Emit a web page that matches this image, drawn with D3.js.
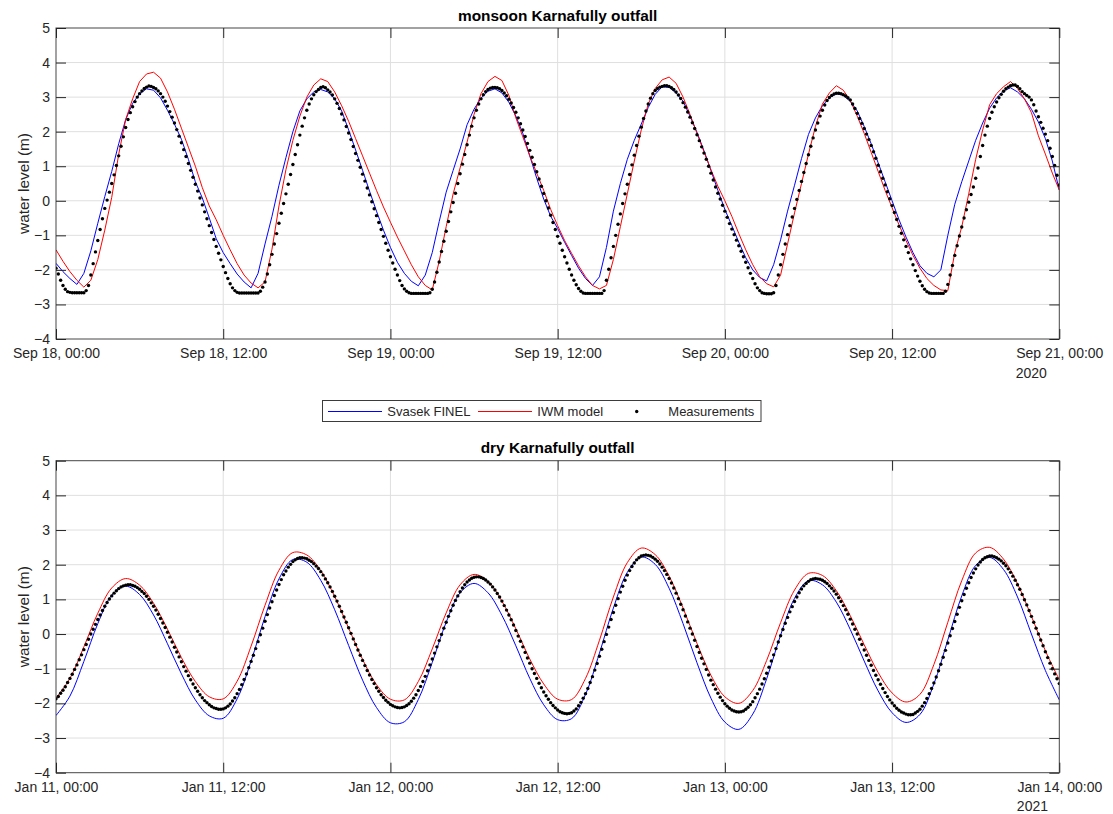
<!DOCTYPE html>
<html><head><meta charset="utf-8">
<script src="https://cdn.jsdelivr.net/npm/d3@7"></script>
<style>
body{margin:0;background:#fff;}
svg{display:block;font-family:"Liberation Sans",Arial,Helvetica,sans-serif;}
</style></head><body>
<svg id="chart" width="1113" height="814"></svg>
<script>
// ---------------- data ----------------
const spanHours = 72;
const xTickHours = [0, 12, 24, 36, 48, 60, 72];
const monsoonTickLabels = ["Sep 18, 00:00","Sep 18, 12:00","Sep 19, 00:00","Sep 19, 12:00","Sep 20, 00:00","Sep 20, 12:00","Sep 21, 00:00"];
const dryTickLabels = ["Jan 11, 00:00","Jan 11, 12:00","Jan 12, 00:00","Jan 12, 12:00","Jan 13, 00:00","Jan 13, 12:00","Jan 14, 00:00"];
const monsoonYear = "2020";
const dryYear = "2021";
const yTicks = [-4, -3, -2, -1, 0, 1, 2, 3, 4, 5];
const seriesNames = ["Svasek FINEL", "IWM model", "Measurements"];
const titles = ["monsoon Karnafully outfall", "dry Karnafully outfall"];
const yLabel = "water level (m)";

// monsoon, models every 30 min (Sep 18 00:00 .. Sep 21 00:00)
const monsoonSvasek = [
-1.81,-2.05,-2.25,-2.42,-2.1,-1.45,-0.65,0.12,0.85,1.65,2.35,2.82,
3.1,3.24,3.2,2.98,2.62,2.22,1.78,1.2,0.55,0.08,-0.5,-1.1,
-1.5,-1.82,-2.12,-2.35,-2.52,-2.1,-1.25,-0.45,0.45,1.25,2.0,2.6,
2.95,3.15,3.22,3.15,2.95,2.6,2.05,1.47,0.88,0.28,-0.3,-0.85,
-1.35,-1.78,-2.1,-2.33,-2.46,-2.15,-1.5,-0.6,0.25,0.88,1.5,2.2,
2.65,2.97,3.17,3.24,3.12,2.85,2.45,1.95,1.3,0.65,0.05,-0.45,
-0.8,-1.2,-1.58,-1.95,-2.25,-2.45,-2.2,-1.35,-0.3,0.5,1.2,1.75,
2.22,2.7,3.08,3.3,3.28,3.12,2.88,2.45,1.98,1.45,0.88,0.3,
-0.25,-0.72,-1.2,-1.65,-2.0,-2.22,-2.32,-1.85,-1.13,-0.3,0.45,1.22,
1.92,2.4,2.75,2.98,3.1,3.05,2.88,2.6,2.15,1.65,1.1,0.55,
0.0,-0.55,-1.05,-1.5,-1.88,-2.1,-2.2,-2.0,-1.0,-0.1,0.55,1.15,
1.75,2.25,2.68,2.98,3.18,3.27,3.15,2.95,2.65,2.28,1.8,1.15,
0.31];
const monsoonIWM = [
-1.42,-1.75,-2.05,-2.3,-2.5,-2.3,-1.7,-0.85,0.1,1.35,2.35,2.95,
3.45,3.67,3.72,3.55,3.15,2.65,2.1,1.55,1.0,0.38,-0.15,-0.55,
-1.0,-1.42,-1.82,-2.15,-2.38,-2.52,-2.35,-1.4,-0.15,0.9,1.75,2.45,
3.0,3.35,3.53,3.45,3.15,2.75,2.3,1.8,1.3,0.8,0.3,-0.18,
-0.62,-1.05,-1.45,-1.85,-2.2,-2.45,-2.58,-1.75,-0.75,0.2,0.95,1.7,
2.5,3.1,3.45,3.6,3.48,3.05,2.4,1.85,1.3,0.8,0.3,-0.25,
-0.72,-1.15,-1.52,-1.88,-2.2,-2.45,-2.55,-2.45,-1.7,-0.75,0.2,1.15,
2.05,2.8,3.25,3.5,3.58,3.4,3.0,2.5,1.95,1.42,0.9,0.42,
0.0,-0.45,-0.95,-1.42,-1.85,-2.2,-2.4,-2.49,-2.15,-1.25,-0.35,0.5,
1.35,2.15,2.8,3.12,3.33,3.2,2.9,2.45,1.95,1.4,0.85,0.3,
-0.2,-0.7,-1.15,-1.58,-1.95,-2.25,-2.45,-2.58,-2.6,-1.5,-0.75,0.2,
1.2,2.05,2.78,3.1,3.3,3.45,3.25,2.95,2.55,1.88,1.35,0.8,
0.31];
// monsoon measurements every 10 min
const monsoonMeasured = [
-1.95,-2.12,-2.3,-2.45,-2.56,-2.63,
-2.65,-2.66,-2.66,-2.66,-2.66,-2.66,
-2.66,-2.6,-2.45,-2.15,-1.82,-1.48,
-1.15,-0.83,-0.52,-0.22,0.02,0.25,
0.5,0.75,1.02,1.3,1.58,1.85,
2.12,2.35,2.55,2.72,2.87,3.0,
3.1,3.18,3.25,3.29,3.32,3.31,
3.28,3.24,3.18,3.1,3.0,2.88,
2.74,2.58,2.42,2.25,2.06,1.87,
1.68,1.48,1.28,1.08,0.88,0.68,
0.48,0.28,0.08,-0.12,-0.32,-0.52,
-0.72,-0.92,-1.12,-1.32,-1.52,-1.71,
-1.9,-2.08,-2.25,-2.4,-2.52,-2.6,
-2.65,-2.67,-2.67,-2.67,-2.67,-2.67,
-2.67,-2.67,-2.67,-2.67,-2.62,-2.5,
-2.35,-2.12,-1.85,-1.55,-1.25,-0.95,
-0.65,-0.36,-0.08,0.2,0.48,0.76,
1.05,1.34,1.62,1.9,2.16,2.4,
2.62,2.8,2.95,3.07,3.16,3.22,
3.28,3.3,3.27,3.21,3.15,3.06,
2.95,2.82,2.67,2.51,2.34,2.15,
1.96,1.77,1.57,1.37,1.17,0.97,
0.77,0.57,0.37,0.17,-0.03,-0.23,
-0.43,-0.63,-0.83,-1.03,-1.23,-1.43,
-1.62,-1.8,-1.98,-2.15,-2.31,-2.45,
-2.55,-2.62,-2.66,-2.68,-2.68,-2.68,
-2.68,-2.68,-2.68,-2.68,-2.68,-2.66,
-2.56,-2.35,-2.07,-1.77,-1.47,-1.17,
-0.88,-0.6,-0.32,-0.05,0.22,0.5,
0.78,1.06,1.34,1.62,1.9,2.16,
2.4,2.62,2.8,2.95,3.07,3.16,
3.22,3.26,3.28,3.28,3.27,3.24,
3.19,3.12,3.04,2.94,2.83,2.7,
2.56,2.4,2.23,2.05,1.86,1.66,
1.46,1.26,1.05,0.84,0.63,0.42,
0.21,0.0,-0.21,-0.42,-0.63,-0.83,
-1.03,-1.23,-1.43,-1.62,-1.8,-1.98,
-2.15,-2.3,-2.43,-2.54,-2.62,-2.67,
-2.68,-2.68,-2.68,-2.68,-2.68,-2.68,
-2.68,-2.68,-2.6,-2.3,-1.98,-1.65,
-1.32,-1.0,-0.68,-0.38,-0.08,0.2,
0.48,0.76,1.04,1.32,1.6,1.87,
2.13,2.38,2.6,2.8,2.97,3.1,
3.19,3.25,3.29,3.31,3.33,3.33,
3.31,3.27,3.22,3.15,3.06,2.96,
2.84,2.71,2.57,2.42,2.26,2.09,
1.91,1.74,1.56,1.38,1.2,1.0,
0.8,0.6,0.4,0.22,0.05,-0.13,
-0.3,-0.48,-0.66,-0.82,-0.98,-1.14,
-1.3,-1.46,-1.62,-1.78,-1.94,-2.1,
-2.25,-2.4,-2.52,-2.6,-2.66,-2.68,
-2.69,-2.69,-2.69,-2.66,-2.45,-2.15,
-1.85,-1.55,-1.25,-0.98,-0.72,-0.47,
-0.22,0.04,0.3,0.56,0.82,1.08,
1.33,1.58,1.82,2.05,2.25,2.45,
2.62,2.77,2.9,2.99,3.05,3.09,
3.11,3.11,3.1,3.07,3.03,2.98,
2.92,2.8,2.67,2.53,2.38,2.24,
2.09,1.93,1.77,1.6,1.42,1.23,
1.03,0.84,0.65,0.46,0.26,0.06,
-0.14,-0.34,-0.54,-0.74,-0.94,-1.13,
-1.32,-1.5,-1.68,-1.85,-2.02,-2.18,
-2.33,-2.46,-2.56,-2.63,-2.67,-2.68,
-2.68,-2.68,-2.68,-2.68,-2.68,-2.62,
-2.42,-2.15,-1.87,-1.58,-1.3,-1.02,
-0.76,-0.5,-0.26,-0.04,0.18,0.4,
0.65,0.95,1.28,1.6,1.9,2.16,
2.38,2.56,2.72,2.86,2.98,3.08,
3.17,3.24,3.29,3.33,3.35,3.35,
3.31,3.24,3.16,3.1,3.05,3.0,
2.92,2.78,2.6,2.43,2.27,2.1,
1.93,1.74,1.52,1.28,1.02,0.74,
0.46];

// dry season, models hourly (Jan 11 00:00 .. Jan 14 00:00)
const drySvasek = [
-2.35,-1.79,-0.79,0.3,1.12,1.38,1.14,0.55,-0.28,-1.15,-1.9,-2.36,
-2.43,-1.87,-0.78,0.5,1.59,2.15,2.07,1.55,0.7,-0.33,-1.33,-2.12,
-2.56,-2.53,-1.89,-0.82,0.34,1.19,1.46,1.19,0.54,-0.34,-1.28,-2.04,
-2.47,-2.44,-1.74,-0.55,0.75,1.78,2.22,2.01,1.32,0.3,-0.83,-1.85,
-2.54,-2.75,-2.31,-1.29,-0.03,1.03,1.54,1.42,0.92,0.13,-0.78,-1.64,
-2.27,-2.55,-2.32,-1.44,-0.17,1.1,1.98,2.21,1.86,1.07,0.0,-1.05,
-1.9];
const dryIWM = [
-1.85,-1.28,-0.37,0.6,1.33,1.6,1.41,0.89,0.14,-0.68,-1.37,-1.81,
-1.87,-1.36,-0.35,0.83,1.84,2.35,2.28,1.83,1.08,0.17,-0.73,-1.46,
-1.88,-1.9,-1.37,-0.43,0.61,1.42,1.72,1.52,0.95,0.15,-0.72,-1.44,
-1.88,-1.89,-1.28,-0.18,1.07,2.06,2.48,2.29,1.67,0.75,-0.27,-1.19,
-1.81,-2.0,-1.63,-0.76,0.33,1.27,1.75,1.69,1.25,0.53,-0.31,-1.11,
-1.7,-1.96,-1.74,-0.88,0.34,1.54,2.34,2.5,2.16,1.45,0.51,-0.48,
-1.32];
// dry measurements every 10 min
const dryMeasured = [
-1.87,-1.8,-1.71,-1.62,-1.52,-1.4,
-1.28,-1.16,-1.02,-0.89,-0.74,-0.6,
-0.45,-0.3,-0.15,0.0,0.14,0.28,
0.42,0.55,0.68,0.8,0.91,1.01,
1.1,1.18,1.25,1.31,1.36,1.39,
1.41,1.42,1.42,1.4,1.38,1.34,
1.29,1.23,1.17,1.09,1.0,0.9,
0.8,0.69,0.57,0.45,0.32,0.19,
0.05,-0.09,-0.23,-0.38,-0.52,-0.66,
-0.8,-0.94,-1.07,-1.2,-1.32,-1.44,
-1.55,-1.65,-1.75,-1.84,-1.92,-1.98,
-2.04,-2.09,-2.13,-2.15,-2.17,-2.17,
-2.16,-2.13,-2.08,-2.02,-1.93,-1.84,
-1.72,-1.6,-1.46,-1.31,-1.15,-0.97,
-0.79,-0.61,-0.42,-0.22,-0.02,0.17,
0.37,0.56,0.75,0.93,1.11,1.27,
1.43,1.57,1.71,1.82,1.93,2.01,
2.09,2.14,2.18,2.2,2.2,2.19,
2.17,2.13,2.09,2.03,1.96,1.89,
1.8,1.7,1.59,1.48,1.36,1.23,
1.09,0.95,0.8,0.65,0.49,0.34,
0.18,0.02,-0.14,-0.3,-0.46,-0.61,
-0.76,-0.91,-1.05,-1.18,-1.31,-1.43,
-1.55,-1.65,-1.75,-1.83,-1.91,-1.97,
-2.03,-2.07,-2.1,-2.12,-2.13,-2.12,
-2.1,-2.06,-2.01,-1.94,-1.85,-1.75,
-1.63,-1.51,-1.37,-1.22,-1.06,-0.89,
-0.72,-0.55,-0.37,-0.19,-0.01,0.17,
0.34,0.51,0.67,0.83,0.97,1.1,
1.22,1.33,1.42,1.5,1.56,1.61,
1.64,1.65,1.65,1.63,1.6,1.56,
1.5,1.44,1.36,1.27,1.17,1.07,
0.95,0.82,0.69,0.55,0.41,0.26,
0.1,-0.06,-0.21,-0.37,-0.53,-0.69,
-0.84,-1.0,-1.14,-1.28,-1.42,-1.55,
-1.67,-1.78,-1.88,-1.98,-2.06,-2.13,
-2.19,-2.24,-2.27,-2.29,-2.3,-2.29,
-2.27,-2.22,-2.16,-2.07,-1.97,-1.85,
-1.72,-1.57,-1.4,-1.23,-1.04,-0.85,
-0.64,-0.44,-0.22,-0.01,0.2,0.42,
0.62,0.83,1.02,1.21,1.38,1.55,
1.7,1.83,1.95,2.05,2.14,2.2,
2.25,2.27,2.28,2.27,2.25,2.21,
2.16,2.1,2.02,1.93,1.83,1.72,
1.6,1.47,1.33,1.18,1.02,0.86,
0.7,0.52,0.35,0.17,0.0,-0.18,
-0.36,-0.53,-0.7,-0.86,-1.02,-1.18,
-1.33,-1.46,-1.59,-1.71,-1.82,-1.92,
-2.01,-2.08,-2.14,-2.19,-2.22,-2.24,
-2.25,-2.24,-2.22,-2.17,-2.11,-2.04,
-1.95,-1.84,-1.72,-1.59,-1.44,-1.29,
-1.13,-0.96,-0.78,-0.6,-0.42,-0.23,
-0.05,0.13,0.31,0.48,0.64,0.79,
0.94,1.07,1.19,1.3,1.39,1.46,
1.52,1.57,1.59,1.6,1.59,1.58,
1.55,1.51,1.46,1.39,1.32,1.24,
1.15,1.05,0.94,0.82,0.7,0.57,
0.43,0.29,0.14,0.0,-0.15,-0.3,
-0.46,-0.61,-0.76,-0.9,-1.05,-1.19,
-1.32,-1.45,-1.57,-1.69,-1.8,-1.9,
-1.99,-2.07,-2.14,-2.2,-2.25,-2.28,
-2.31,-2.33,-2.33,-2.32,-2.28,-2.23,
-2.17,-2.08,-1.98,-1.86,-1.72,-1.57,
-1.41,-1.24,-1.06,-0.87,-0.67,-0.47,
-0.26,-0.05,0.16,0.36,0.57,0.77,
0.96,1.14,1.32,1.48,1.63,1.76,
1.88,1.99,2.08,2.15,2.2,2.23,
2.25,2.25,2.23,2.2,2.16,2.11,
2.04,1.97,1.88,1.78,1.67,1.55,
1.42,1.29,1.14,0.99,0.84,0.68,
0.51,0.34,0.17,0.0,-0.17,-0.34,
-0.51,-0.68,-0.84,-1.0,-1.15,-1.29,
-1.43];

// ---------------- drawing ----------------
const svg = d3.select("#chart");
const W = 1113, H = 814;
svg.append("rect").attr("width", W).attr("height", H).attr("fill", "#fff");

const LEFT = 56, RIGHT = 1059.3;
const axisColor = "#262626";
const gridColor = "#dfdfdf";
const blueColor = "#0000ff", redColor = "#ff0000";
const x = d3.scaleLinear().domain([0, spanHours]).range([LEFT, RIGHT]);

function hourOf(arr) { const step = spanHours / (arr.length - 1); return (d, i) => x(i * step); }

function panel(cfg) {
  const y = d3.scaleLinear().domain([-4, 5]).range([cfg.bottom, cfg.top]);
  const g = svg.append("g");

  // grid
  g.append("g").selectAll("line").data(yTicks.slice(1, -1)).join("line")
    .attr("x1", LEFT).attr("x2", RIGHT)
    .attr("y1", d => y(d)).attr("y2", d => y(d))
    .attr("stroke", gridColor).attr("stroke-width", 1);
  g.append("g").selectAll("line").data(xTickHours.slice(1, -1)).join("line")
    .attr("x1", d => x(d)).attr("x2", d => x(d))
    .attr("y1", cfg.top).attr("y2", cfg.bottom)
    .attr("stroke", gridColor).attr("stroke-width", 1);

  // series
  const clipId = "clip" + cfg.id;
  svg.append("clipPath").attr("id", clipId).append("rect")
    .attr("x", LEFT).attr("y", cfg.top).attr("width", RIGHT - LEFT).attr("height", cfg.bottom - cfg.top);
  const plot = g.append("g").attr("clip-path", `url(#${clipId})`);

  const curve = cfg.smooth ? d3.curveCatmullRom.alpha(0.5) : d3.curveLinear;
  plot.append("path").datum(cfg.svasek)
    .attr("d", d3.line().x(hourOf(cfg.svasek)).y(d => y(d)).curve(curve))
    .attr("fill", "none").attr("stroke", blueColor).attr("stroke-width", 1);
  plot.append("path").datum(cfg.iwm)
    .attr("d", d3.line().x(hourOf(cfg.iwm)).y(d => y(d)).curve(curve))
    .attr("fill", "none").attr("stroke", redColor).attr("stroke-width", 1);
  const mx = hourOf(cfg.meas);
  plot.append("g").selectAll("circle").data(cfg.meas).join("circle")
    .attr("cx", (d, i) => mx(d, i)).attr("cy", d => y(d)).attr("r", 1.7).attr("fill", "#000");

  // axes (ticks inside, box on)
  const fmt = d => cfg.labels[xTickHours.indexOf(d)];
  const ax = [
    g.append("g").attr("transform", `translate(0,${cfg.bottom})`)
      .call(d3.axisBottom(x).tickValues(xTickHours).tickSize(-10).tickPadding(9).tickFormat(fmt)),
    g.append("g").attr("transform", `translate(0,${cfg.top})`)
      .call(d3.axisTop(x).tickValues(xTickHours).tickSize(-10).tickFormat("")),
    g.append("g").attr("transform", `translate(${LEFT},0)`)
      .call(d3.axisLeft(y).tickValues(yTicks).tickSize(-10).tickPadding(6).tickFormat(d3.format("d"))),
    g.append("g").attr("transform", `translate(${RIGHT},0)`)
      .call(d3.axisRight(y).tickValues(yTicks).tickSize(-10).tickFormat(""))
  ];
  ax.forEach(a => {
    a.select(".domain").remove();
    a.selectAll(".tick line").attr("stroke", axisColor).attr("stroke-width", 1);
    a.selectAll(".tick text").attr("fill", axisColor)
      .style("font-size", "14px").style("font-family", '"Liberation Sans", Arial, sans-serif');
  });

  g.append("rect").attr("x", LEFT).attr("y", cfg.top)
    .attr("width", RIGHT - LEFT).attr("height", cfg.bottom - cfg.top)
    .attr("fill", "none").attr("stroke", axisColor).attr("stroke-width", 1).attr("opacity", 0.85);

  // year under the last tick label, left aligned with it
  const lastLabel = ax[0].selectAll(".tick text").filter(d => d === spanHours).node();
  const lw = lastLabel.getComputedTextLength();
  g.append("text").attr("x", x(spanHours) - lw / 2).attr("y", cfg.bottom + 38.5)
    .attr("fill", axisColor).style("font-size", "14px").text(cfg.year);

  // y label
  g.append("text")
    .attr("transform", `translate(29,${(cfg.top + cfg.bottom) / 2}) rotate(-90)`)
    .attr("text-anchor", "middle").attr("fill", axisColor)
    .style("font-size", "15.4px").text(yLabel);

  // title
  g.append("text").attr("x", (LEFT + RIGHT) / 2).attr("y", cfg.top - 7.5)
    .attr("text-anchor", "middle").attr("fill", "#000")
    .style("font-size", "15.4px").style("font-weight", "bold").text(cfg.title);
}

panel({ id: 1, top: 28, bottom: 339, title: titles[0], labels: monsoonTickLabels, year: monsoonYear,
        svasek: monsoonSvasek, iwm: monsoonIWM, meas: monsoonMeasured, smooth: false });
panel({ id: 2, top: 460.7, bottom: 772.7, title: titles[1], labels: dryTickLabels, year: dryYear,
        svasek: drySvasek, iwm: dryIWM, meas: dryMeasured, smooth: true });

// legend
const lg = svg.append("g");
lg.append("rect").attr("x", 322.5).attr("y", 400.5).attr("width", 438.5).attr("height", 21)
  .attr("fill", "#fff").attr("stroke", axisColor).attr("stroke-width", 1).attr("opacity", 0.9);
const ly = 411.5;
lg.append("path").attr("d", `M328,${ly}H382`).attr("stroke", blueColor).attr("stroke-width", 1.2).attr("fill", "none");
lg.append("path").attr("d", `M478,${ly}H532`).attr("stroke", redColor).attr("stroke-width", 1.2).attr("fill", "none");
lg.append("circle").attr("cx", 636.7).attr("cy", ly).attr("r", 1.7).attr("fill", "#000");
const legX = [387.3, 537.3, 668.3];
lg.selectAll("text.leg").data(seriesNames).join("text").attr("class", "leg")
  .attr("x", (d, i) => legX[i]).attr("y", ly).attr("dy", "0.35em")
  .attr("fill", axisColor).style("font-size", "13px").text(d => d);
</script>
</body></html>
